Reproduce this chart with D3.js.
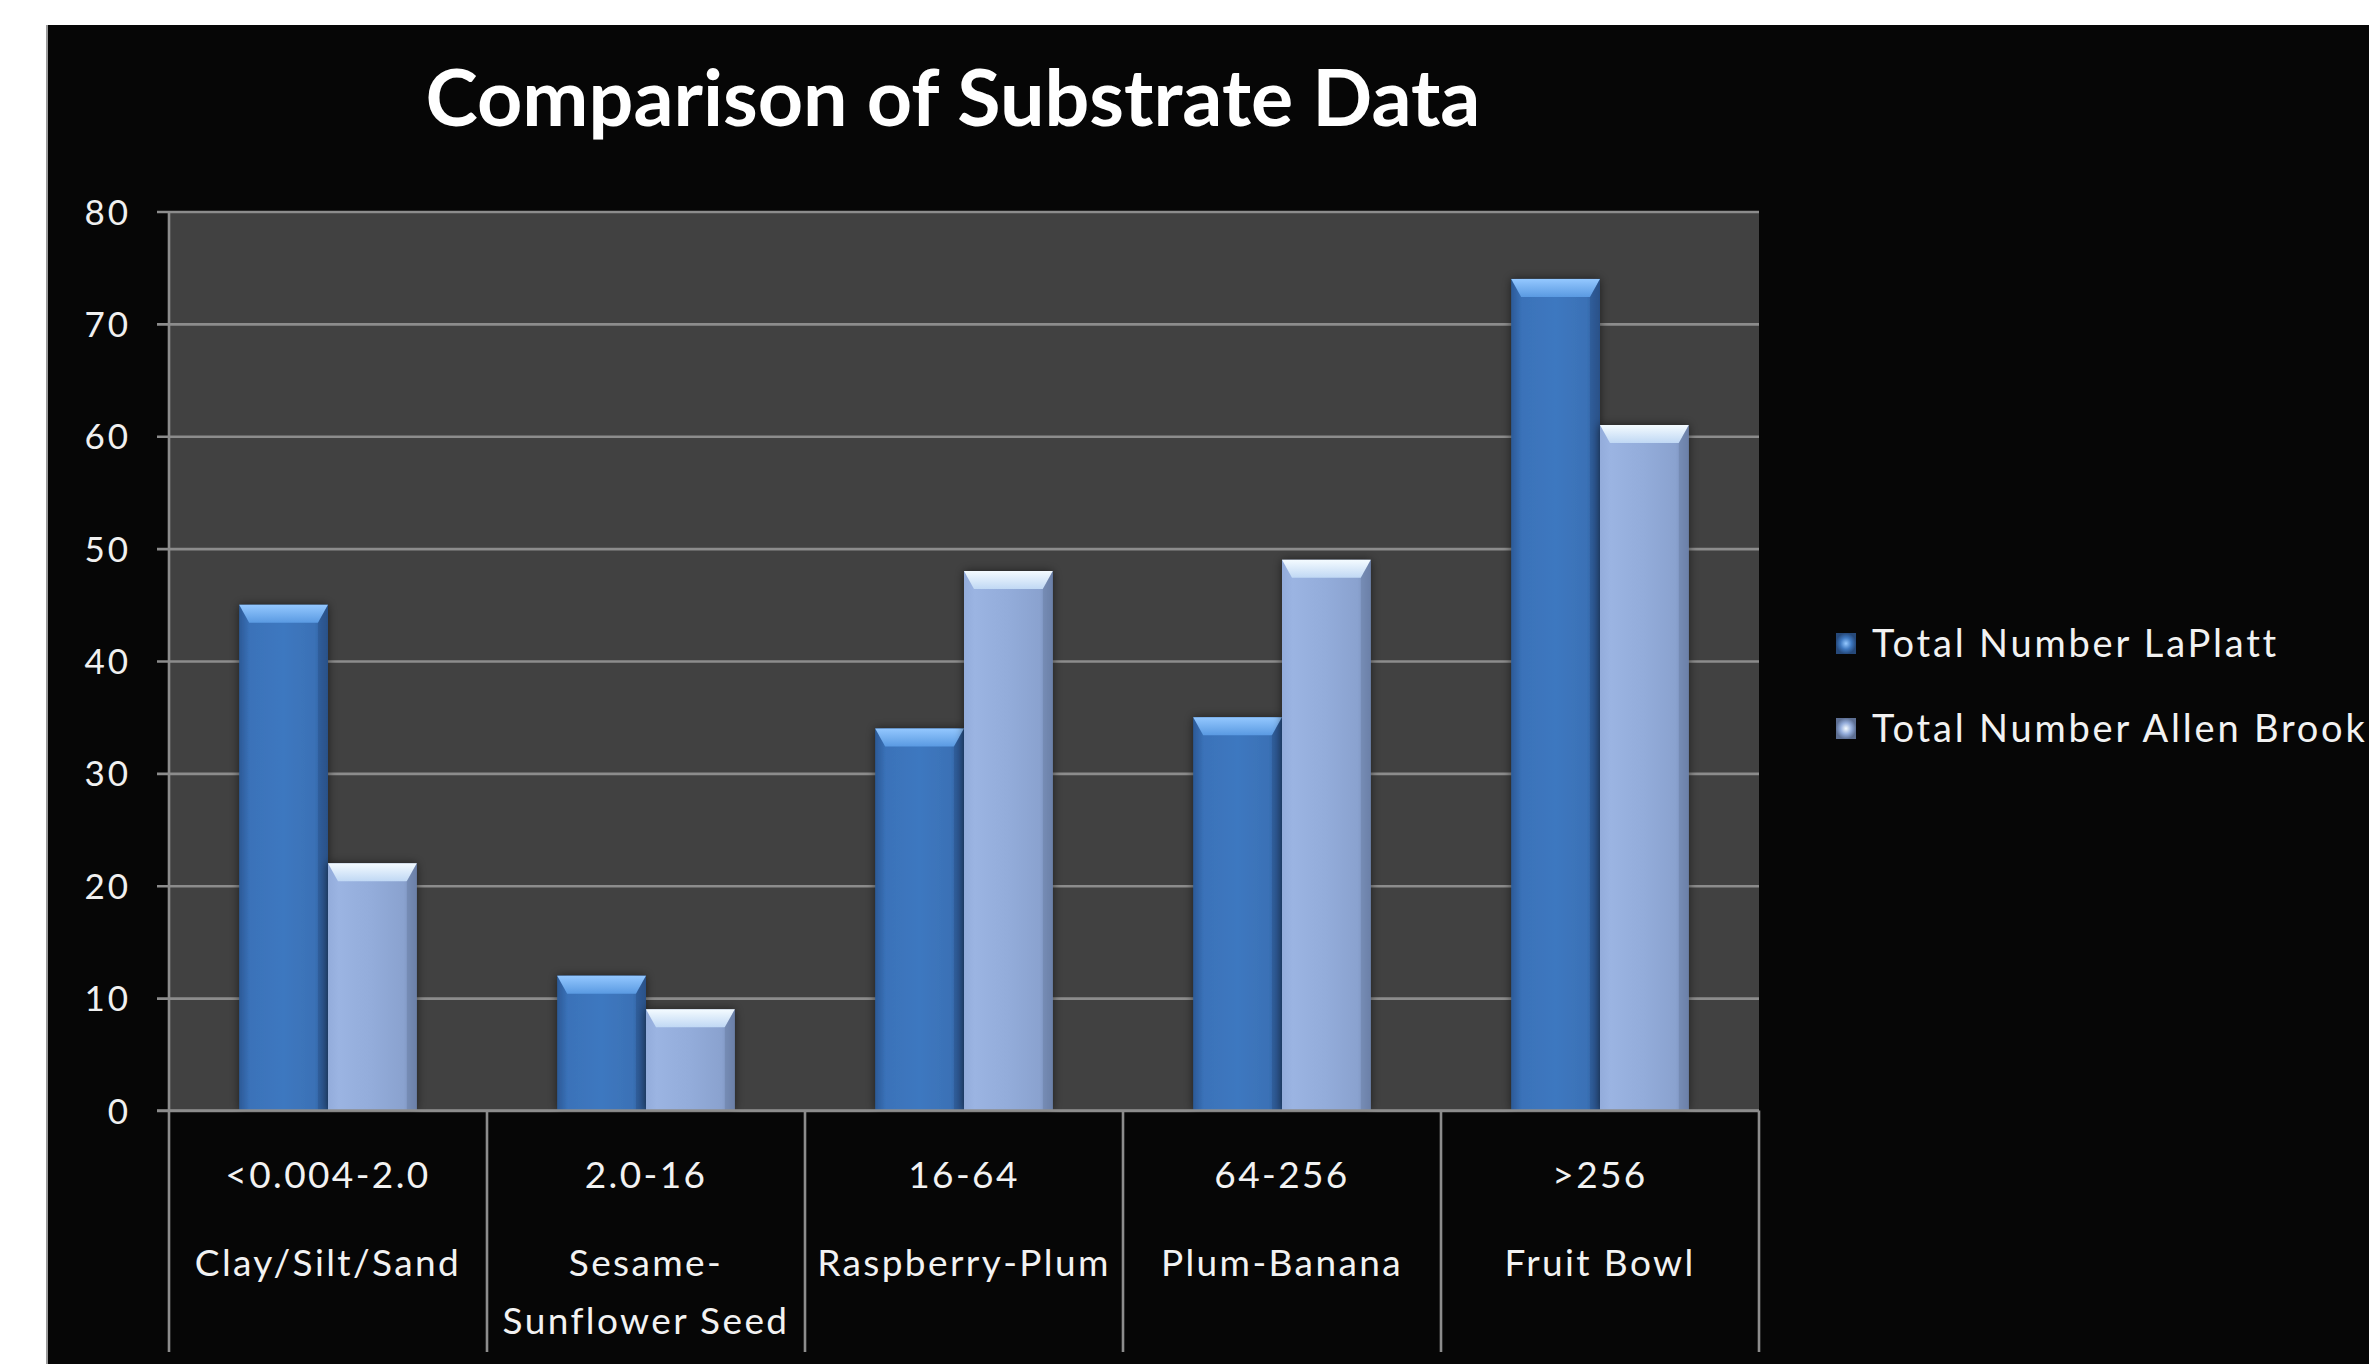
<!DOCTYPE html>
<html>
<head>
<meta charset="utf-8">
<script src="https://cdn.jsdelivr.net/npm/d3@7"></script>
<style>
  html, body { margin: 0; padding: 0; background: #ffffff; }
  svg { display: block; }
  text { font-family: Lato, "Open Sans", sans-serif; fill: #f2f2f2; }
</style>
</head>
<body>
<script>
// ---- data ----
const sizeRanges = ["<0.004-2.0", "2.0-16", "16-64", "64-256", ">256"];
const sizeNames = [["Clay/Silt/Sand"], ["Sesame-", "Sunflower Seed"], ["Raspberry-Plum"], ["Plum-Banana"], ["Fruit Bowl"]];
const seriesNames = ["Total Number LaPlatt", "Total Number Allen Brook"];
const laPlatt = [45, 12, 34, 35, 74];
const allenBrook = [22, 9, 48, 49, 61];
const yTicks = [0, 10, 20, 30, 40, 50, 60, 70, 80];

const W = 2369, H = 1364;
const plot = { left: 169, right: 1759, top: 211.5, bottom: 1110.5 };

const svg = d3.select("body").append("svg").attr("width", W).attr("height", H);
const defs = svg.append("defs");

// body gradients (horizontal) and cap gradients (vertical) for each series
const palette = [
  { body: ["#2c5a97", "#3a72b9", "#3e78c0", "#3a71b6", "#2b568f"], cap: ["#94c8ff", "#5a9ae2"], edge: "#26497a" },
  { body: ["#93acdb", "#9bb4e2", "#93acda", "#8aa2cf", "#7489b3"], cap: ["#f4fbff", "#c0d8f4"], edge: "#5d6f93" }
];
palette.forEach((p, i) => {
  const g = defs.append("linearGradient").attr("id", "body" + i).attr("x1", 0).attr("x2", 1).attr("y1", 0).attr("y2", 0);
  const stops = [0, 0.12, 0.5, 0.85, 1];
  p.body.forEach((c, k) => g.append("stop").attr("offset", stops[k]).attr("stop-color", c));
  const c = defs.append("linearGradient").attr("id", "cap" + i).attr("x1", 0).attr("x2", 0).attr("y1", 0).attr("y2", 1);
  c.append("stop").attr("offset", 0).attr("stop-color", p.cap[0]);
  c.append("stop").attr("offset", 1).attr("stop-color", p.cap[1]);
  const m = defs.append("radialGradient").attr("id", "mark" + i);
  m.append("stop").attr("offset", 0).attr("stop-color", p.cap[0]);
  m.append("stop").attr("offset", 0.55).attr("stop-color", p.body[2]);
  m.append("stop").attr("offset", 1).attr("stop-color", p.edge);
});
const shadow = defs.append("filter").attr("id", "shadow").attr("x", -0.3).attr("y", -0.3).attr("width", 1.6).attr("height", 1.6);
shadow.append("feDropShadow").attr("dx", 0).attr("dy", 0).attr("stdDeviation", 5)
  .attr("flood-color", "#000").attr("flood-opacity", 0.55);

// page frame
svg.append("rect").attr("x", 46).attr("y", 25).attr("width", W - 46).attr("height", H - 25).attr("fill", "#060606");
svg.append("rect").attr("x", 46).attr("y", 25).attr("width", 2).attr("height", H - 25).attr("fill", "#9a9a9a");

// title
svg.append("text").attr("x", 953).attr("y", 126).attr("text-anchor", "middle")
  .attr("font-size", 79).attr("font-weight", 700).style("fill", "#ffffff")
  .text("Comparison of Substrate Data");

// scales
const y = d3.scaleLinear().domain([0, 80]).range([plot.bottom, plot.top]);
const x0 = d3.scaleBand().domain(d3.range(sizeRanges.length)).range([plot.left, plot.right]).padding(0);
const x1 = d3.scaleBand().domain([0, 1]).range([0, x0.bandwidth()]).paddingInner(0).paddingOuter(0.79);

// plot background
svg.append("rect").attr("x", plot.left).attr("y", plot.top)
  .attr("width", plot.right - plot.left).attr("height", plot.bottom - plot.top).attr("fill", "#414141");

// y axis with gridlines running across the plot
const yAxis = d3.axisLeft(y).tickValues(yTicks).tickSize(plot.right - plot.left + 12).tickPadding(26);
const gy = svg.append("g").attr("transform", `translate(${plot.right},0)`).call(yAxis);
gy.select(".domain").remove();
gy.selectAll(".tick line").attr("stroke", "#8c8c8c").attr("stroke-width", 2.6);
gy.selectAll(".tick text").attr("font-size", 35).attr("letter-spacing", 3)
  .style("fill", "#f0f0f0").attr("dy", "0.36em");

// left border of plot
svg.append("line").attr("x1", plot.left).attr("x2", plot.left).attr("y1", plot.top).attr("y2", plot.bottom)
  .attr("stroke", "#8c8c8c").attr("stroke-width", 2.6);

// bars
const series = [laPlatt, allenBrook];
const bars = [];
sizeRanges.forEach((_, i) => series.forEach((vals, s) => bars.push({ i, s, v: vals[i] })));
const b = 10, capH = 18; // bevel depth and cap height
const gBars = svg.append("g");
const bar = gBars.selectAll("g.bar").data(bars).join("g").attr("class", "bar");
bar.each(function (d) {
  const g = d3.select(this);
  const x = x0(d.i) + x1(d.s), w = x1.bandwidth();
  const yt = y(d.v), yb = y(0);
  g.append("rect").attr("x", x).attr("y", yt).attr("width", w).attr("height", yb - yt)
    .attr("fill", `url(#body${d.s})`).attr("filter", "url(#shadow)");
  g.append("polygon")
    .attr("points", [[x, yt], [x + w, yt], [x + w - b, yt + capH], [x + b, yt + capH]].map(p => p.join(",")).join(" "))
    .attr("fill", `url(#cap${d.s})`);
  g.append("polygon")
    .attr("points", [[x + w, yt], [x + w, yb], [x + w - b, yb], [x + w - b, yt + capH]].map(p => p.join(",")).join(" "))
    .attr("fill", palette[d.s].edge).attr("opacity", 0.35);
});

// x axis baseline and category dividers
svg.append("line").attr("x1", plot.left - 12).attr("x2", plot.right).attr("y1", plot.bottom).attr("y2", plot.bottom)
  .attr("stroke", "#8c8c8c").attr("stroke-width", 2.6);
const edges = d3.range(sizeRanges.length + 1).map(k => k < sizeRanges.length ? x0(k) : x0(k - 1) + x0.bandwidth());
svg.append("g").selectAll("line").data(edges).join("line")
  .attr("x1", d => d).attr("x2", d => d).attr("y1", plot.bottom).attr("y2", 1352)
  .attr("stroke", "#8c8c8c").attr("stroke-width", 2.6);

// category labels
const lab = svg.append("g").selectAll("g").data(sizeRanges.map((r, i) => ({ r, i }))).join("g")
  .attr("transform", d => `translate(${x0(d.i) + x0.bandwidth() / 2},0)`);
lab.append("text").attr("y", 1188).attr("text-anchor", "middle").attr("font-size", 37)
  .attr("letter-spacing", 2.4).text(d => d.r);
lab.each(function (d) {
  sizeNames[d.i].forEach((line, k) => {
    d3.select(this).append("text").attr("y", 1276 + k * 58).attr("text-anchor", "middle")
      .attr("font-size", 37).attr("letter-spacing", 2.4).text(line);
  });
});

// legend
const leg = svg.append("g").selectAll("g").data(seriesNames).join("g")
  .attr("transform", (d, i) => `translate(1836,${633 + i * 85})`);
leg.append("rect").attr("width", 20).attr("height", 21).attr("fill", (d, i) => `url(#mark${i})`);
leg.append("text").attr("x", 36).attr("y", 24).attr("font-size", 38).attr("letter-spacing", 2.8).text(d => d);
</script>
</body>
</html>
